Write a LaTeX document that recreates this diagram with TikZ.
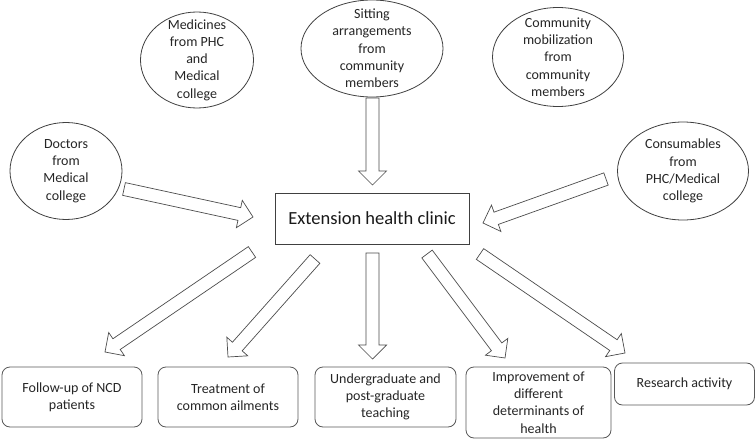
\documentclass[tikz,border=0pt]{standalone}
\usepackage{fontspec}
\setmainfont{Carlito}
\usetikzlibrary{calc,shapes.geometric}
\tikzset{
  ell/.style={draw=black!75, line width=0.8pt, ellipse, inner sep=0pt},
  etext/.style={align=center, inner sep=0pt, text=black!85, font=\fontsize{14}{17.3}\selectfont},
  outbox/.style={draw=black!65, line width=0.8pt, rounded corners=8pt, inner sep=0pt, align=center, text=black!85, font=\fontsize{14}{17.3}\selectfont},
  mainbox/.style={draw=black!75, line width=0.8pt, inner sep=0pt, text=black!90, font=\fontsize{18.5}{22}\selectfont},
  barrowstyle/.style={draw=black!70, line width=0.7pt, fill=white, line join=miter}
}
\newcommand\barrow[2]{%
  \path ($(#2)!14pt!(#1)$) coordinate (bh);
  \draw[barrowstyle] ($(#1)!6.5pt!90:(#2)$) -- ($(bh)!6.5pt!90:(#2)$) -- ($(bh)!14pt!90:(#2)$) -- (#2) -- ($(bh)!14pt!-90:(#2)$) -- ($(bh)!6.5pt!-90:(#2)$) -- ($(#1)!6.5pt!-90:(#2)$) -- cycle;}
\begin{document}
\begin{tikzpicture}[x=1pt,y=-1pt]
\useasboundingbox[fill=white] (0,0) rectangle (756,439);
% ellipses
\node[ell, minimum width=112pt, minimum height=97pt] (doc) at (66,171) {};
\node[etext] (doct) at (doc) {Doctors\\from\\Medical\\college};
\node[ell, minimum width=113pt, minimum height=96pt] (med) at (197,60) {};
\node[etext] (medt) at (med) {Medicines\\from PHC\\and\\Medical\\college};
\node[ell, minimum width=142pt, minimum height=97pt] (sit) at (372,48.5) {};
\node[etext] (sitt) at (sit) {Sitting\\arrangements\\from\\community\\members};
\node[ell, minimum width=131pt, minimum height=99pt] (com) at (558,57) {};
\node[etext] (comt) at (com) {Community\\mobilization\\from\\community\\members};
\node[ell, minimum width=131pt, minimum height=98pt] (con) at (683,171) {};
\node[etext] (cont) at (con) {Consumables\\from\\PHC/Medical\\college};
% main box
\node[mainbox, minimum width=194pt, minimum height=51pt] (clinic) at (372,218.5) {Extension health clinic};
% outcome boxes
\node[outbox, minimum width=140pt, minimum height=60pt] (fu) at (72,397) {Follow-up of NCD\\patients};
\node[outbox, minimum width=140pt, minimum height=60pt] (tr) at (228,397) {Treatment of\\common ailments};
\node[outbox, minimum width=141pt, minimum height=60pt] (ug) at (385.5,397) {Undergraduate and\\post-graduate\\teaching};
\node[outbox, minimum width=145pt, minimum height=71pt] (im) at (538.5,402.5) {Improvement of\\different\\determinants of\\health};
\node[outbox, minimum width=140pt, minimum height=42pt] (re) at (684.5,384) {Research activity};
% arrow ends
\coordinate (a1s) at (124,189); \coordinate (a1e) at (253,217);
\coordinate (a2s) at (606,179); \coordinate (a2e) at (483,223);
\coordinate (a3s) at (372.5,98); \coordinate (a3e) at (372.5,185);
\coordinate (a4s) at (252,252); \coordinate (a4e) at (105,352);
\coordinate (a5s) at (315,259); \coordinate (a5e) at (228,357);
\coordinate (a6s) at (372.5,253); \coordinate (a6e) at (372.5,359);
\coordinate (a7s) at (427,254); \coordinate (a7e) at (505,358);
\coordinate (a8s) at (480,254); \coordinate (a8e) at (625,353);
\barrow{a1s}{a1e}
\barrow{a2s}{a2e}
\barrow{a3s}{a3e}
\barrow{a4s}{a4e}
\barrow{a5s}{a5e}
\barrow{a6s}{a6e}
\barrow{a7s}{a7e}
\barrow{a8s}{a8e}
\end{tikzpicture}
\end{document}
